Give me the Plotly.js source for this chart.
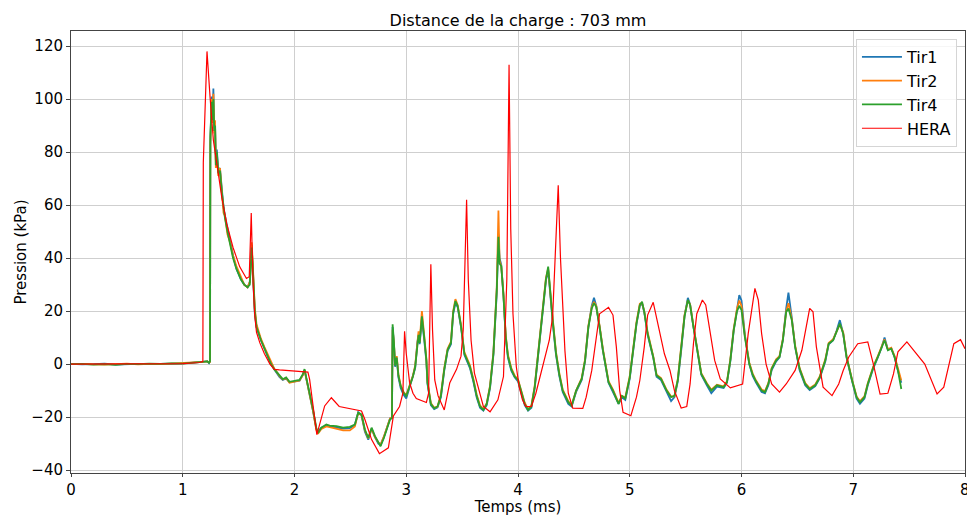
<!DOCTYPE html>
<html>
<head>
<meta charset="utf-8">
<script src="https://cdn.plot.ly/plotly-3.0.1.min.js"></script>
<style>html,body{margin:0;padding:0;background:#fff;}#chart{width:967px;height:516px;}</style>
</head>
<body>
<div id="chart"></div>
<script>
// Time axis (ms) for the three measured shots
const tTir = [0.00,0.10,0.20,0.30,0.40,0.50,0.60,0.70,0.80,0.90,1.00,1.10,1.18,1.22,1.235,1.244,
1.247,1.259,1.268,1.274,1.282,1.289,1.296,1.305,1.318,1.333,1.349,1.365,1.378,1.40,1.423,1.45,1.48,1.52,1.55,1.58,1.60,1.61,1.617,1.625,1.635,1.645,1.66,1.68,1.70,1.73,1.76,1.79,1.82,1.85,
1.865,1.895,1.925,1.955,2.00,2.045,2.075,2.09,2.105,2.135,2.165,2.195,2.21,2.24,2.285,2.315,2.375,2.435,2.495,2.54,2.57,2.60,2.63,2.66,2.69,2.72,2.75,2.77,2.80,2.83,2.855,2.872,
2.878,2.89,2.90,2.915,2.93,2.95,2.975,3.00,3.03,3.06,3.08,3.10,3.11,3.12,3.14,3.16,3.18,3.19,3.22,3.25,3.28,3.31,3.34,3.37,3.40,3.42,3.44,3.46,3.49,3.52,3.55,3.57,3.60,3.63,3.66,3.69,3.72,3.75,3.78,3.81,
3.825,3.835,3.85,3.87,3.89,3.91,3.94,3.97,4.00,4.03,4.06,4.09,4.12,4.15,4.18,4.22,4.25,4.27,4.28,4.31,4.34,4.37,4.40,4.45,4.48,4.52,4.57,4.60,4.63,4.66,4.68,4.70,4.73,4.76,4.81,4.85,4.90,4.93,4.96,
5.00,5.03,5.06,5.09,5.11,5.13,5.16,5.21,5.24,5.28,5.33,5.37,5.40,5.43,5.46,5.49,5.52,5.54,5.57,5.60,5.64,5.69,5.73,5.78,5.84,5.87,5.90,5.93,5.96,5.98,
6.00,6.03,6.07,6.10,6.13,6.18,6.21,6.24,6.27,6.31,6.34,6.37,6.40,6.42,6.45,6.48,6.52,6.57,6.61,6.66,6.70,6.75,6.78,6.82,6.85,6.88,6.91,6.94,6.99,
7.03,7.06,7.10,7.13,7.18,7.22,7.25,7.28,7.31,7.34,7.37,7.40,7.43];

const tir4 = [0.0,0.1,-0.2,0.0,-0.3,0.1,0.0,0.2,0.1,0.3,0.2,0.6,0.9,1.0,0.5,1.0,
86,99,92,100,88,90,75,80,72,73,65,58,55,50,45,40,36,32,30,29,30,36,44,38,28,20,14,11,9,6,3,0,-2,-3.5,
-4.4,-5.7,-5,-6.7,-6.3,-6,-3.8,-1.9,-5,-10.8,-17,-24,-26,-24,-22.8,-23.2,-23.4,-24,-23.7,-22.8,-18.4,-19,-24.7,-27.9,-24,-27.2,-29.7,-31,-27.9,-24,-20.9,-20.3,
15,8,-0.6,2.5,-4.4,-8.2,-10.8,-12,-8.5,-4.7,-1,9,11,8,18,10.5,1.6,-7,-15,-16.7,-16,-12,-2,5.4,8,19.4,23.8,22,14.3,4,1,-1,-6,-12,-16,-17.3,-15,-8.5,4,28,
48,38,37,25.7,10.5,3,-2,-4.7,-6,-11,-15,-17.3,-16,-8.5,4,22,32,36.8,30.8,16.8,4,-4,-10,-14.4,-15.7,-10,-5.6,1.4,14,21,23,21.6,14,5.2,-6.8,-10,-15,-12,-13,
-5,5.2,15.3,22.3,23.5,19.7,11.5,2.7,-4.3,-5.6,-10,-12.5,-12,-6,5.2,17.9,24.2,22.3,14,6.5,-3.7,-7.5,-10,-8,-8.7,-6.8,1.4,12.8,20,22,
20.4,10.3,0,-4,-6.5,-10,-10.6,-7.5,-1.8,1.4,2.7,9,19.7,21,16.6,6.5,-1.8,-7.5,-9.4,-8,-5,1.4,7.7,9,12,15.3,11.5,2.7,-6.2,
-12.5,-14.4,-12.5,-7.5,-1.1,2.7,5.8,9,5.2,5.8,2.7,-2.4,-9.4];

const tir1 = [0.1,-0.1,0.0,0.2,-0.2,0.0,0.1,0.0,0.2,0.2,0.3,0.5,0.8,1.1,0.4,1.2,
84,101,93,104,89,91,77,81,73,74,66,59,56,51,46,41,36,32,30,29,31,37,45,37,27,19,14,11,9,6,3,0,-2,-3.8,
-4.8,-6,-5.4,-6.9,-6.6,-6.3,-4,-2.3,-5.4,-11,-17.5,-24.5,-25.5,-24,-23.2,-23.5,-23.8,-24.3,-24.2,-23,-18.2,-19.4,-25.5,-28.5,-24.4,-27.6,-30,-30.5,-27.5,-23.5,-20.5,-20.5,
14,7.5,-1,2,-5,-9,-11.5,-13,-9,-5,-1.5,8.5,10.5,7.5,17,9.5,1,-7.5,-15.5,-17,-16.3,-12.5,-2.5,5,7.5,19,23,21.5,14,3.5,0.5,-1.5,-6.5,-12.5,-16.5,-17.6,-15.5,-9,3.5,27,
49,40,37.5,26,10,2.5,-2.5,-5,-6.5,-11.5,-15.5,-17.6,-16.5,-9,3.5,21.5,31.5,35.5,30,16,3.5,-4.5,-10.5,-15,-16,-10.5,-6,1,14,22,25,22,14,5,-7,-10.5,-15,-12.5,-13.5,
-5.5,5,15,22,23,19.5,11,2.5,-4.8,-6,-10.5,-14,-12.5,-6.5,5,18,25,22.5,14,6,-4,-8,-11,-8.5,-9,-7,1,12.5,21,26,
24,11,0,-4.5,-7,-10.5,-11,-8,-2.3,1,2.5,9,21,27,17.5,6.5,-2.3,-8,-9.8,-8.3,-5.3,1,7.5,9,12.5,16.6,11.5,2.5,-6.5,
-13,-15,-13,-8,-1.5,2.5,5.8,10,5.5,6,2.5,-2.5,-7];

const tir2 = [0.0,0.1,-0.1,-0.2,0.0,0.2,-0.1,0.1,0.0,0.2,0.3,0.4,0.8,1.0,0.6,0.8,
83,100,91,102,87,92,74,79,71,74,64,57,56,49,46,41,37,33,30,29,31,38,46,39,29,21,15,12,9.5,6.5,3.5,0.5,-1.8,-3.5,
-4.5,-5.8,-5.2,-7,-6.5,-6.2,-4.2,-2.3,-5.3,-11.2,-17.5,-24.8,-26.3,-24.5,-23.5,-23.8,-24.5,-25,-25,-23.5,-18.5,-19.3,-25,-28,-24.5,-27.5,-29.5,-30.5,-27.3,-23.2,-20.5,-20.2,
13,7.8,0,3,-4,-8,-10.5,-11.8,-8,-4.3,-0.5,9.5,12.4,8.5,20,11,2,-6.5,-14.7,-16.5,-16,-11.5,-1.5,5.8,8.5,20,24.5,22.3,14.8,4.5,1.5,-0.5,-5.5,-11.5,-15.6,-17,-14.8,-8,4.5,29,
58,39,37,26.5,11,3.5,-1.5,-4.3,-5.8,-10.6,-14.6,-17,-15.6,-8,4.5,22.5,32.5,36,31,17.5,4.5,-3.5,-9.6,-14,-15.5,-10,-5.3,1.8,14.5,21.5,23.5,22,14.5,5.6,-6.4,-9.6,-14.6,-12,-12.6,
-4.6,5.6,15.8,22.8,23,20,12,3,-4,-5.3,-9.7,-12.2,-12.2,-5.6,5.6,18.5,24,22.6,14.4,7,-3.4,-7.2,-9.7,-7.8,-8.4,-6.5,1.8,13.2,21,24,
22,10.8,0.5,-3.6,-6.2,-9.6,-10.2,-7.2,-1.5,1.8,3,9.5,20,23,17,7,-1.5,-7.2,-9.1,-7.7,-4.7,1.8,8,9.4,12.4,15,12,3,-6,
-12.2,-14,-12.2,-7.2,-0.8,3,6.2,9.3,5.6,6.2,3,-2,-6.2];

// HERA simulation
const tHera = [0,0.5,1.0,1.15,1.18,1.184,1.217,1.244,1.274,1.318,1.349,1.393,1.45,1.51,1.57,1.595,1.607,1.613,1.62,1.63,1.645,1.66,1.69,1.73,1.78,1.82,1.865,2.0,2.12,2.135,
2.20,2.27,2.33,2.40,2.60,2.63,2.69,2.76,2.84,2.885,2.94,2.97,2.985,3.0,3.03,3.06,3.09,3.18,3.20,3.22,3.235,3.255,3.285,3.34,3.39,3.45,3.49,3.51,3.525,3.54,3.555,3.58,3.61,3.66,3.69,3.75,3.82,3.87,3.90,3.92,3.935,3.955,3.985,
4.01,4.04,4.07,4.12,4.16,4.22,4.28,4.31,4.34,4.36,4.38,4.40,4.42,4.45,4.49,4.58,4.61,4.66,4.70,4.73,4.81,4.85,4.88,4.91,4.94,5.01,5.06,5.09,5.13,5.16,5.21,5.25,5.31,5.36,5.40,5.46,5.51,5.54,5.57,5.60,5.65,5.68,5.72,5.76,5.81,5.90,
6.01,6.06,6.12,6.15,6.18,6.22,6.27,6.34,6.40,6.48,6.54,6.58,6.61,6.64,6.67,6.73,6.81,6.87,6.91,6.96,7.04,7.13,7.18,7.24,7.31,7.36,7.40,7.48,7.64,7.75,7.81,7.90,7.96,8.0];
const hera = [0,0,0.2,0.6,1,76,118,101,84.5,72,63,53,44,36.7,32.3,33,45,57,45,30,18,12,8,4,0,-2,-2.2,-2.6,-3,-5.7,
-26.6,-15.8,-12.7,-16,-17.7,-20.9,-28.5,-33.8,-31.6,-19.6,-16,-11,12.4,4,-7,-11,-13,-14.5,-11,37.7,13,-6,-12,-17.3,-7,-2,3,13,38,62,32,9,-3.4,-11,-16,-18,-13.5,-4.7,32,113,51,19,-1,
-8.5,-13.5,-16,-16,-11,-1,9,18,44.7,67.5,40,20,5,-11,-16.6,-16.7,-12.5,-2.4,10.3,19,21.4,18.5,6.5,-10,-18.2,-19.5,-12.5,-6.2,6.5,18.5,23.3,15.3,3.9,-2.4,-10,-16.6,-16,-7.5,7.7,19,24.2,22.3,11.5,1.4,-5.6,-9,
-7.5,11.5,28.6,24.2,11.5,0,-7.5,-10.6,-7.5,-2.4,5.2,14,21,19.7,6.5,-8.7,-11.9,-7.5,-2.4,2.7,7.7,8.4,0,-11.3,-11,-3.7,4.6,8.4,0,-11.3,-8.7,7.7,9.2,5.8];

const xTicks = [0,1,2,3,4,5,6,7,8];
const xLastTick = 8;
const yTicks = [-40,-20,0,20,40,60,80,100,120];

const traces = [
  {x: tTir, y: tir1, name: 'Tir1', mode: 'lines', line: {color: '#1f77b4', width: 1.8}},
  {x: tTir, y: tir2, name: 'Tir2', mode: 'lines', line: {color: '#ff7f0e', width: 1.8}},
  {x: tTir, y: tir4, name: 'Tir4', mode: 'lines', line: {color: '#2ca02c', width: 1.8}},
  {x: tHera, y: hera, name: 'HERA', mode: 'lines', line: {color: '#ff0000', width: 1.2}}
];

const font = {family: 'DejaVu Sans', size: 15, color: '#000'};
const layout = {
  width: 967, height: 516,
  margin: {l: 71, r: 2, t: 31, b: 43, pad: 0},
  paper_bgcolor: '#fff', plot_bgcolor: '#fff',
  font: font,
  showlegend: true,
  title: {text: 'Distance de la charge : 703 mm', font: {family: 'DejaVu Sans', size: 16, color: '#000'}, x: 0.5357, xanchor: 'center', y: 0.961, yanchor: 'middle'},
  xaxis: {
    range: [0, 8], tickvals: xTicks, ticktext: xTicks.map(v => v === xLastTick ? '' : String(v)),
    showgrid: true, gridcolor: '#cfcfcf', gridwidth: 1,
    zeroline: false, showline: true, linecolor: '#444', linewidth: 1, mirror: true,
    ticks: 'outside', ticklen: 3, tickcolor: '#444', tickfont: font,
    title: {text: 'Temps (ms)', font: font, standoff: 1}
  },
  yaxis: {
    range: [-41.1, 125.7], tickvals: yTicks,
    showgrid: true, gridcolor: '#cfcfcf', gridwidth: 1,
    zeroline: false, showline: true, linecolor: '#444', linewidth: 1, mirror: true,
    ticks: 'outside', ticklen: 4, tickcolor: '#444', tickfont: font,
    title: {text: 'Pression (kPa)', font: font, standoff: 1}
  },
  annotations: [
    {x: xLastTick, xref: 'x', y: 0, yref: 'paper', yshift: -6, text: String(xLastTick), showarrow: false, xanchor: 'center', yanchor: 'top', font: font}
  ],
  legend: {
    x: 0.991, y: 0.982, xanchor: 'right', yanchor: 'top',
    bgcolor: 'rgba(255,255,255,0.8)', bordercolor: '#d5d5d5', borderwidth: 1,
    font: {family: 'DejaVu Sans', size: 16, color: '#000'}, itemwidth: 40
  }
};

Plotly.newPlot('chart', traces, layout, {displayModeBar: false, staticPlot: true});
</script>
</body>
</html>
